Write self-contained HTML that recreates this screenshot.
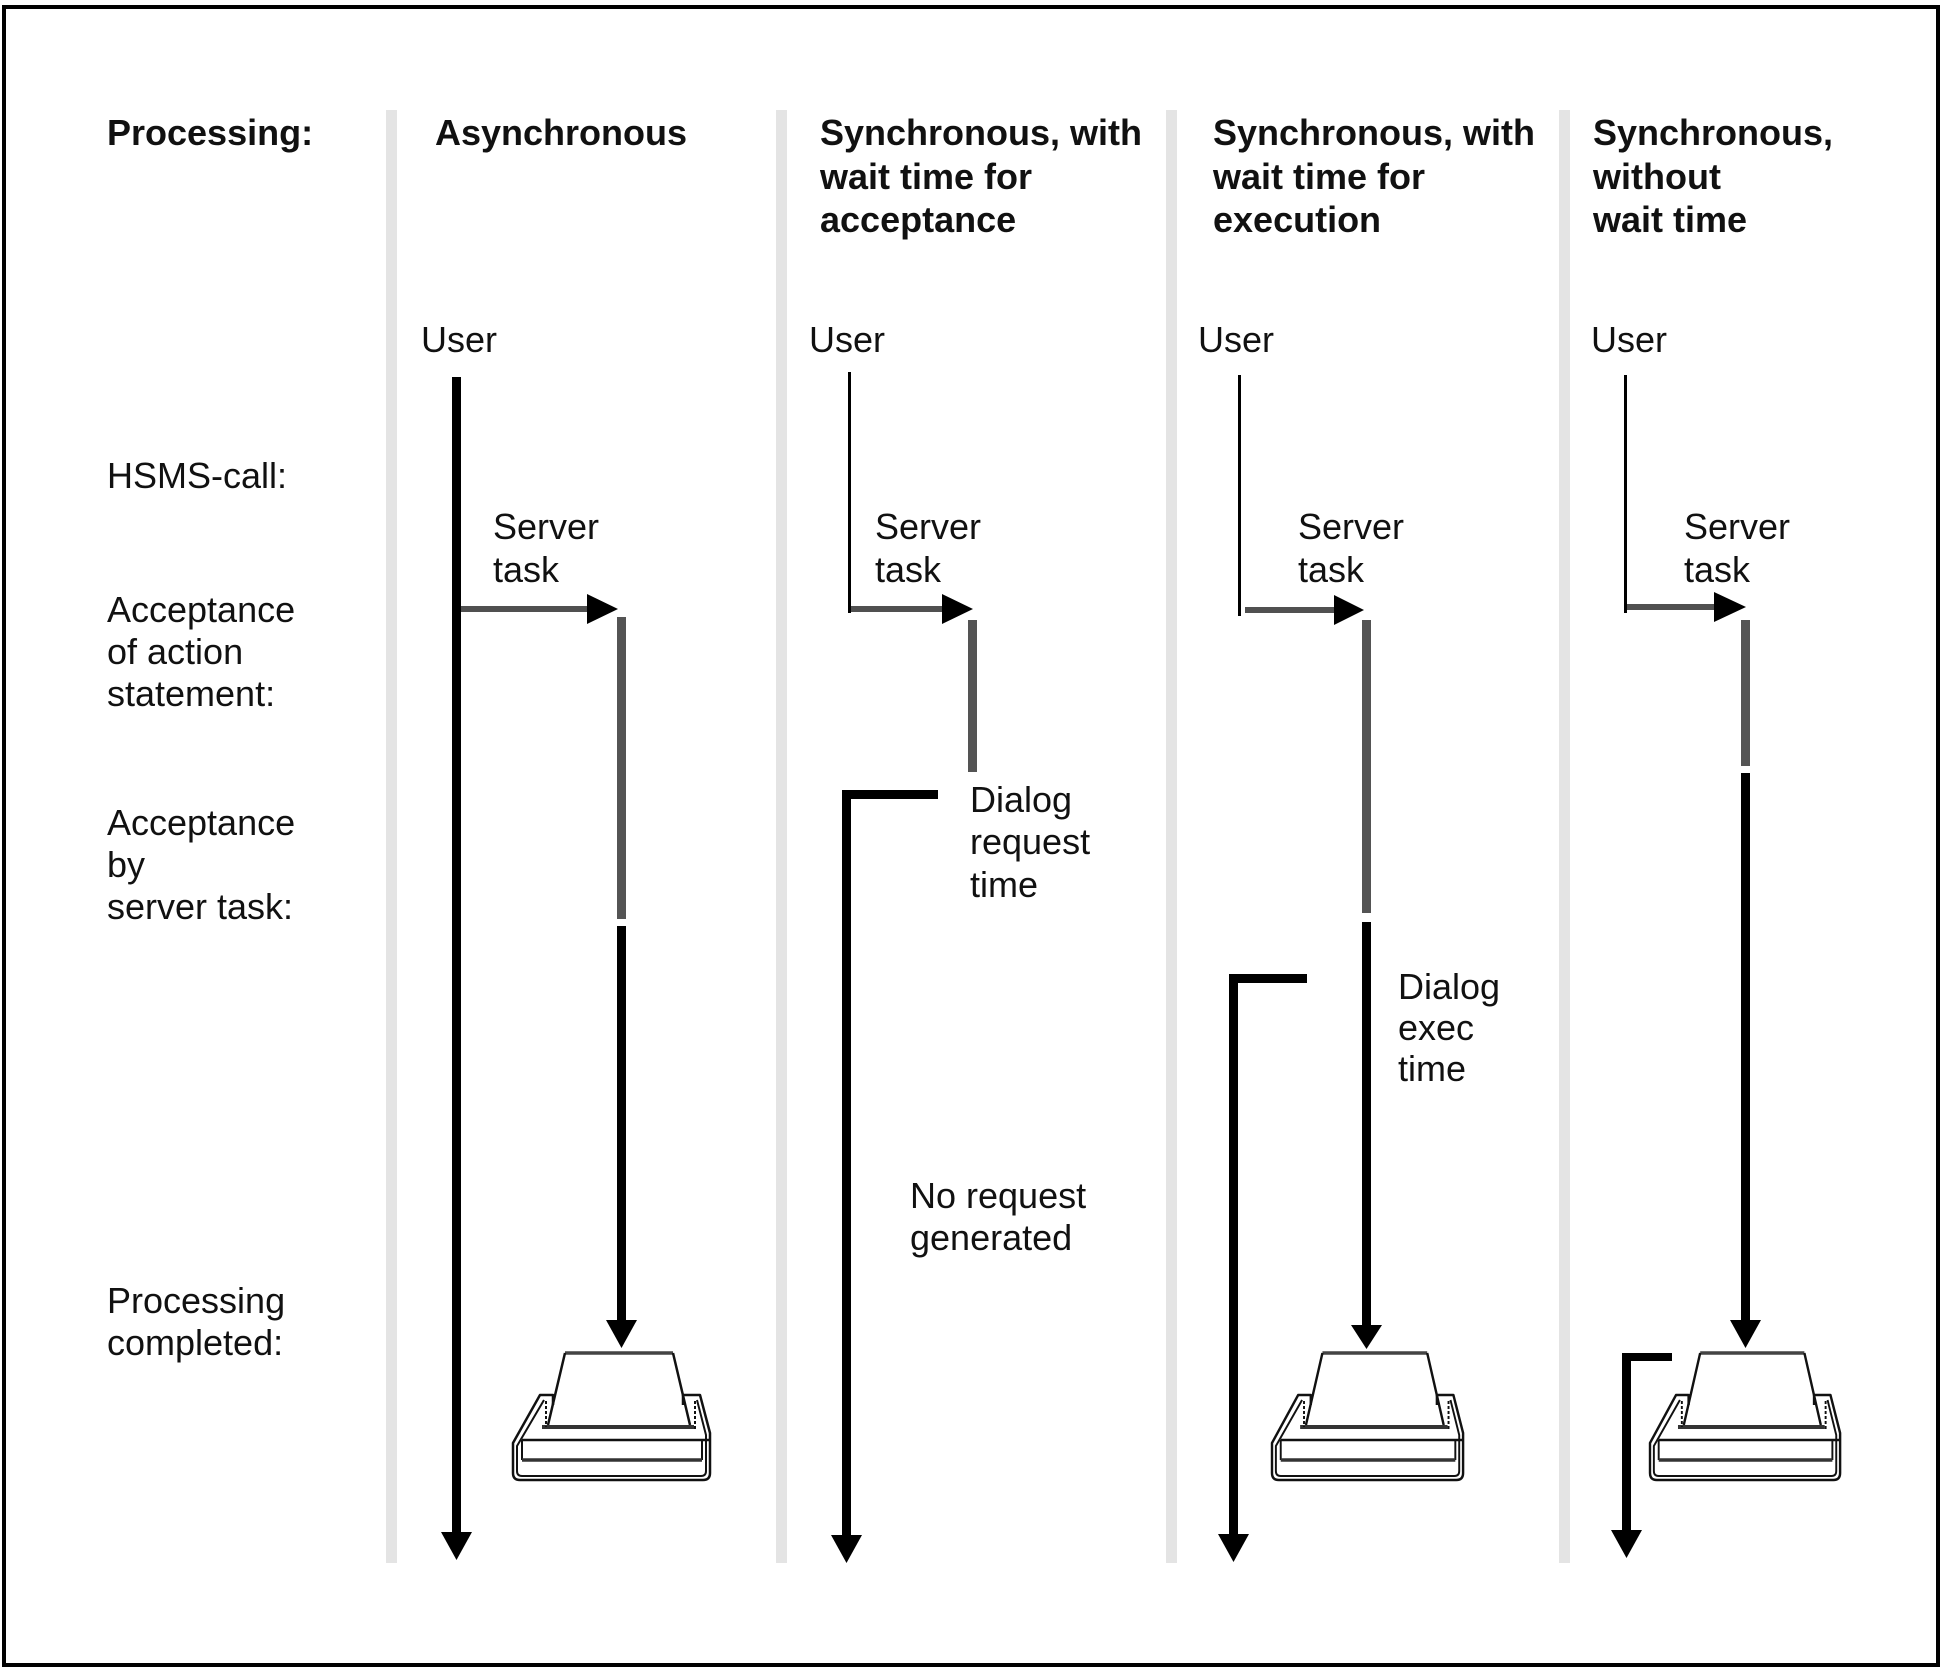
<!DOCTYPE html>
<html><head><meta charset="utf-8"><style>
html,body{margin:0;padding:0;background:#fff;}
svg{display:block;}
text{font-family:"Liberation Sans",Arial,sans-serif;font-size:36px;fill:#111;}
.b{font-weight:bold;}
</style></head><body>
<svg width="1942" height="1672" viewBox="0 0 1942 1672" xmlns="http://www.w3.org/2000/svg">
<defs>
<g id="prn" fill="none" stroke="#111" stroke-linejoin="round">
  <path d="M52,0 L160,0" stroke-width="3.5" stroke="#444"/>
  <path d="M52,0 L35,72 M160,0 L177,72" stroke-width="2.5"/>
  <path d="M29,74 L181,74" stroke-width="4" stroke="#333"/>
  <path d="M40,52 L40,42 L27,42 L0,90 L0,120 Q0,127 7,127 L190,127 Q197,127 197,120 L197,80 L187,42 L170,42 L170,52" stroke-width="2.5"/>
  <path d="M31,47 L4,93 L4,118 Q4,123 9,123 L188,123 Q193,123 193,118 L193,82 L184,47" stroke-width="2"/>
  <path d="M33,48 L33,74 M182,48 L182,76" stroke-width="2" stroke-dasharray="3,2"/>
  <path d="M9,87 L197,87" stroke-width="2.5"/>
  <path d="M9,87 L9,107 M189,87 L189,107" stroke-width="2"/>
  <path d="M9,107 L189,107" stroke-width="3.5" stroke="#333"/>
</g>
</defs>

<!-- outer border -->
<rect x="4" y="7" width="1934" height="1658" fill="none" stroke="#000" stroke-width="4"/>

<!-- separators -->
<rect x="386" y="110" width="11" height="1453" fill="#e4e4e4"/>
<rect x="776" y="110" width="11" height="1453" fill="#e4e4e4"/>
<rect x="1166" y="110" width="11" height="1453" fill="#e4e4e4"/>
<rect x="1559" y="110" width="11" height="1453" fill="#e4e4e4"/>

<!-- headings -->
<text class="b" x="107" y="145">Processing:</text>
<text class="b" x="435" y="145">Asynchronous</text>
<text class="b" x="820" y="145">Synchronous, with</text>
<text class="b" x="820" y="189">wait time for</text>
<text class="b" x="820" y="232">acceptance</text>
<text class="b" x="1213" y="145">Synchronous, with</text>
<text class="b" x="1213" y="189">wait time for</text>
<text class="b" x="1213" y="232">execution</text>
<text class="b" x="1593" y="145">Synchronous,</text>
<text class="b" x="1593" y="189">without</text>
<text class="b" x="1593" y="232">wait time</text>

<!-- left labels -->
<text x="107" y="488">HSMS-call:</text>
<text x="107" y="622">Acceptance</text>
<text x="107" y="664">of action</text>
<text x="107" y="706">statement:</text>
<text x="107" y="835">Acceptance</text>
<text x="107" y="877">by</text>
<text x="107" y="919">server task:</text>
<text x="107" y="1313">Processing</text>
<text x="107" y="1355">completed:</text>

<!-- User labels -->
<text x="421" y="352">User</text>
<text x="809" y="352">User</text>
<text x="1198" y="352">User</text>
<text x="1591" y="352">User</text>

<!-- Server task labels -->
<text x="493" y="539">Server</text><text x="493" y="582">task</text>
<text x="875" y="539">Server</text><text x="875" y="582">task</text>
<text x="1298" y="539">Server</text><text x="1298" y="582">task</text>
<text x="1684" y="539">Server</text><text x="1684" y="582">task</text>

<!-- Dialog labels -->
<text x="970" y="812">Dialog</text>
<text x="970" y="854">request</text>
<text x="970" y="897">time</text>
<text x="1398" y="999">Dialog</text>
<text x="1398" y="1040">exec</text>
<text x="1398" y="1081">time</text>
<text x="910" y="1208">No request</text>
<text x="910" y="1250">generated</text>

<!-- ===== Column 1 ===== -->
<rect x="452" y="377" width="9" height="1157" fill="#000"/>
<polygon points="441,1532 472,1532 456.5,1560" fill="#000"/>
<rect x="461" y="606" width="128" height="6" fill="#505050"/>
<polygon points="587,594 587,624 618,609" fill="#000"/>
<rect x="617" y="617" width="9" height="302" fill="#545454"/>
<rect x="617" y="926" width="9" height="396" fill="#000"/>
<polygon points="606,1320 637,1320 621.5,1348" fill="#000"/>
<use href="#prn" x="513" y="1353"/>

<!-- ===== Column 2 ===== -->
<rect x="848" y="372" width="3" height="241" fill="#000"/>
<rect x="851" y="606" width="93" height="6" fill="#505050"/>
<polygon points="942,594 942,624 973,609" fill="#000"/>
<rect x="968" y="620" width="9" height="152" fill="#545454"/>
<rect x="842" y="790" width="96" height="9" fill="#000"/>
<rect x="842" y="790" width="9" height="747" fill="#000"/>
<polygon points="831,1535 862,1535 846.5,1563" fill="#000"/>

<!-- ===== Column 3 ===== -->
<rect x="1238" y="375" width="3" height="241" fill="#000"/>
<rect x="1245" y="607" width="92" height="6" fill="#505050"/>
<polygon points="1334,595 1334,625 1364,610" fill="#000"/>
<rect x="1362" y="620" width="9" height="293" fill="#545454"/>
<rect x="1362" y="922" width="9" height="405" fill="#000"/>
<polygon points="1351,1325 1382,1325 1366.5,1349" fill="#000"/>
<rect x="1229" y="974" width="78" height="9" fill="#000"/>
<rect x="1229" y="974" width="9" height="562" fill="#000"/>
<polygon points="1218,1534 1249,1534 1233.5,1562" fill="#000"/>
<g transform="translate(1272,1353) scale(0.97,1)"><use href="#prn"/></g>

<!-- ===== Column 4 ===== -->
<rect x="1624" y="375" width="3" height="238" fill="#000"/>
<rect x="1627" y="604" width="89" height="6" fill="#505050"/>
<polygon points="1714,592 1714,622 1746,607" fill="#000"/>
<rect x="1741" y="620" width="9" height="146" fill="#545454"/>
<rect x="1741" y="773" width="9" height="549" fill="#000"/>
<polygon points="1730,1320 1761,1320 1745.5,1348" fill="#000"/>
<rect x="1622" y="1353" width="50" height="8" fill="#000"/>
<rect x="1622" y="1353" width="9" height="178" fill="#000"/>
<polygon points="1611,1530 1642,1530 1626.5,1558" fill="#000"/>
<g transform="translate(1650,1353) scale(0.965,1)"><use href="#prn"/></g>
</svg>
</body></html>
